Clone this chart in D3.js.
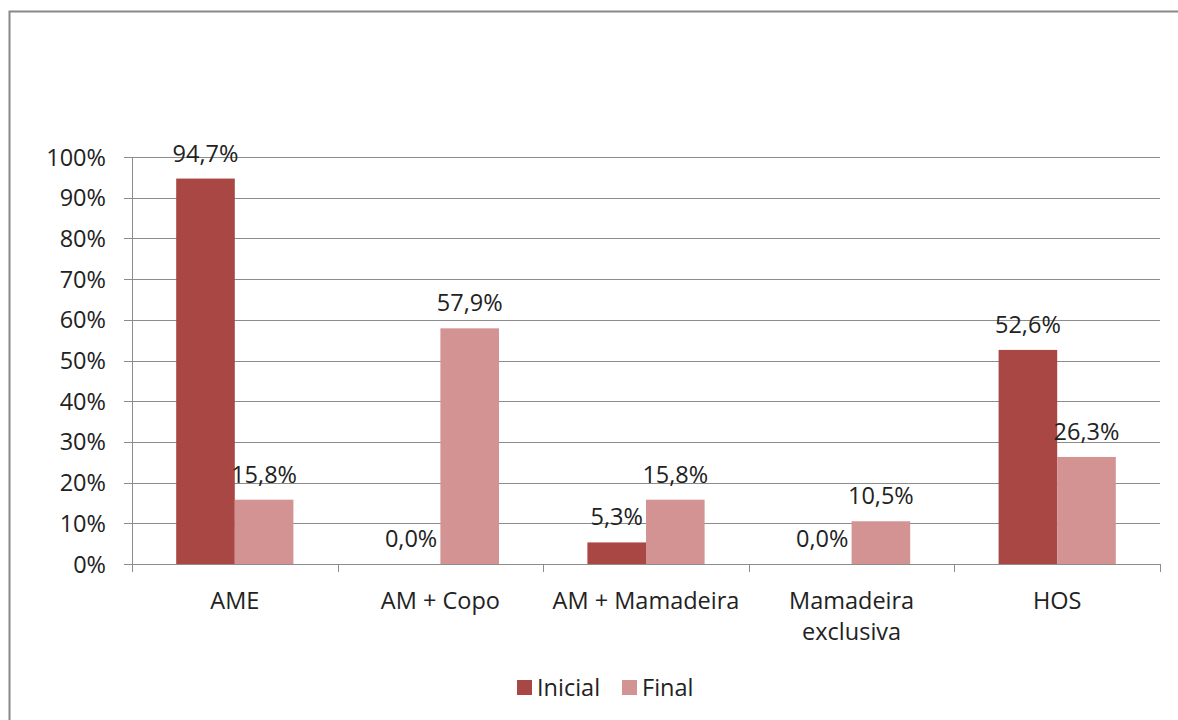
<!DOCTYPE html>
<html>
<head>
<meta charset="utf-8">
<script src="https://cdn.jsdelivr.net/npm/d3@7"></script>
<style>
  body { margin: 0; background: #fff; }
  text { font-family: "Open Sans", sans-serif; fill: #222; }
</style>
</head>
<body>
<svg id="chart" width="1178" height="720"></svg>
<script>
// chart data
var categories = [["AME"], ["AM + Copo"], ["AM + Mamadeira"], ["Mamadeira", "exclusiva"], ["HOS"]];
var series = ["Inicial", "Final"];
var inicial = [94.7, 0.0, 5.3, 0.0, 52.6];
var final = [15.8, 57.9, 15.8, 10.5, 26.3];
var yTicks = [0, 10, 20, 30, 40, 50, 60, 70, 80, 90, 100];

var colors = { Inicial: "#A84744", Final: "#D29392" };
var fs = "23.5px";

var svg = d3.select("#chart");

// outer frame (runs off right and bottom)
svg.append("rect")
  .attr("x", 9.5).attr("y", 11.5)
  .attr("width", 1200).attr("height", 800)
  .attr("fill", "none").attr("stroke", "#888").attr("stroke-width", 2);

var plotLeft = 132, plotRight = 1160, plotTop = 157, plotBottom = 564;

var x = d3.scaleBand()
  .domain(d3.range(categories.length))
  .range([plotLeft, plotRight])
  .paddingInner(0.43).paddingOuter(0.215);

var xs = d3.scaleBand().domain(series).range([0, x.bandwidth()]);

var y = d3.scaleLinear().domain([0, 100]).range([plotBottom, plotTop]);

// gridlines
svg.append("g").selectAll("line")
  .data(yTicks)
  .enter().append("line")
  .attr("x1", plotLeft - 8).attr("x2", plotRight)
  .attr("y1", function(d){ return Math.round(y(d)) + 0.5 })
  .attr("y2", function(d){ return Math.round(y(d)) + 0.5 })
  .attr("stroke", "#8c8c8c").attr("stroke-width", 1);

// y labels
svg.append("g").selectAll("text")
  .data(yTicks)
  .enter().append("text")
  .attr("x", 106).attr("y", function(d){ return y(d) + 8.5 })
  .attr("text-anchor", "end")
  .style("font-size", fs)
  .text(function(d){ return d + "%" });

// y axis line
svg.append("line")
  .attr("x1", plotLeft + 0.5).attr("x2", plotLeft + 0.5)
  .attr("y1", plotTop).attr("y2", plotBottom)
  .attr("stroke", "#8c8c8c");

// x category tick marks
var step = (plotRight - plotLeft) / categories.length;
svg.append("g").selectAll("line")
  .data(d3.range(categories.length + 1))
  .enter().append("line")
  .attr("x1", function(d){ return Math.round(plotLeft + d * step) + 0.5 })
  .attr("x2", function(d){ return Math.round(plotLeft + d * step) + 0.5 })
  .attr("y1", plotBottom).attr("y2", plotBottom + 8)
  .attr("stroke", "#8c8c8c");

// bars
var rows = [];
categories.forEach(function(c, i){
  rows.push({ i: i, s: "Inicial", v: inicial[i] });
  rows.push({ i: i, s: "Final", v: final[i] });
});

svg.append("g").selectAll("rect")
  .data(rows)
  .enter().append("rect")
  .attr("x", function(d){ return x(d.i) + xs(d.s) })
  .attr("width", xs.bandwidth())
  .attr("y", function(d){ return y(d.v) })
  .attr("height", function(d){ return plotBottom - y(d.v) })
  .attr("fill", function(d){ return colors[d.s] });

// value labels
svg.append("g").selectAll("text")
  .data(rows)
  .enter().append("text")
  .attr("x", function(d){ return x(d.i) + xs(d.s) + xs.bandwidth() / 2 })
  .attr("y", function(d){ return y(d.v) - 17 })
  .attr("text-anchor", "middle")
  .style("font-size", fs)
  .text(function(d){ return d.v.toFixed(1).replace(".", ",") + "%" });

// category labels
var cat = svg.append("g").selectAll("text")
  .data(categories)
  .enter().append("text")
  .attr("x", function(d, i){ return x(i) + x.bandwidth() / 2 })
  .attr("y", 609)
  .attr("text-anchor", "middle")
  .style("font-size", fs);
cat.selectAll("tspan")
  .data(function(d){ return d })
  .enter().append("tspan")
  .attr("x", function(){ return d3.select(this.parentNode).attr("x") })
  .attr("dy", function(d, j){ return j === 0 ? 0 : 31 })
  .text(function(d){ return d });

// legend
var legendX = [517, 622];
var lg = svg.append("g").selectAll("g")
  .data(series)
  .enter().append("g")
  .attr("transform", function(d, i){ return "translate(" + legendX[i] + ",680)" });
lg.append("rect")
  .attr("width", 15).attr("height", 15)
  .attr("fill", function(d){ return colors[d] });
lg.append("text")
  .attr("x", 20).attr("y", 16)
  .style("font-size", fs)
  .text(function(d){ return d });
</script>
</body>
</html>
